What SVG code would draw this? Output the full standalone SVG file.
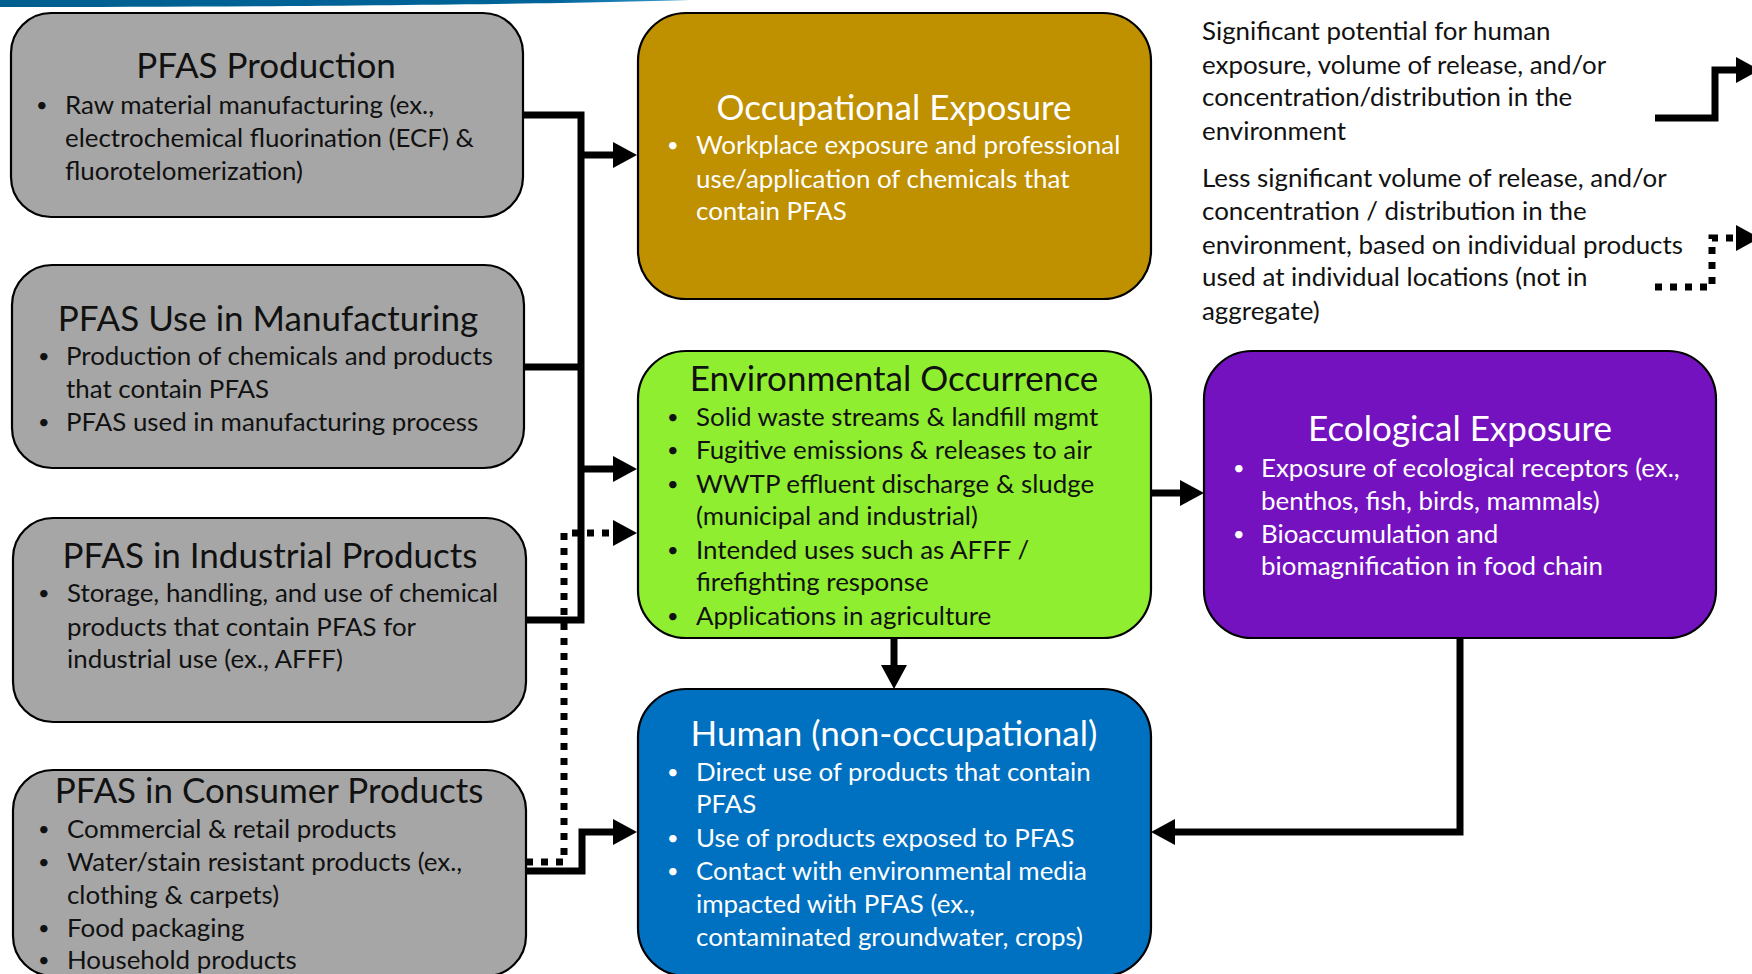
<svg xmlns="http://www.w3.org/2000/svg" width="1752" height="974" viewBox="0 0 1752 974">
<style>
  .box { stroke: #000; stroke-width: 2.2; }
  .gray { fill: #a6a6a6; }
  .txt { font-family: Lato, "Liberation Sans", sans-serif; }
  .title { font-size: 35px; text-anchor: middle; }
  .body { font-size: 25.9px; }
  .b { font-size: 20px; }
  .dark { fill: #111; }
  .white { fill: #fff; }
  .conn { fill: none; stroke: #000; stroke-width: 7; stroke-linejoin: miter; }
  .dot { stroke-dasharray: 7 8; }
</style>
<defs>
  <marker id="ah" viewBox="0 0 24 26" refX="12" refY="13" markerWidth="24" markerHeight="26" markerUnits="userSpaceOnUse" orient="auto">
    <path d="M0,0 L24,13 L0,26 Z" fill="#000"/>
  </marker>
  <linearGradient id="band" x1="0" y1="0" x2="1" y2="0">
    <stop offset="0" stop-color="#005f8f"/>
    <stop offset="0.8" stop-color="#00649a"/>
    <stop offset="1" stop-color="#3a9ccc"/>
  </linearGradient>
</defs>

<path d="M0,0 H690 C560,4 300,7 0,7 Z" fill="url(#band)"/>

<g id="connectors">
  <path class="conn" d="M523,115 H581 V620 H526"/>
  <path class="conn" d="M524,367 H581"/>
  <path class="conn" d="M581,155 H625" marker-end="url(#ah)"/>
  <path class="conn" d="M581,469 H625" marker-end="url(#ah)"/>
  <path class="conn" d="M526,871 H582 V832 H625" marker-end="url(#ah)"/>
  <path class="conn dot" d="M526,862 H564 V533 H625" marker-end="url(#ah)"/>
  <path class="conn" d="M894,638 V677" marker-end="url(#ah)"/>
  <path class="conn" d="M1151,493 H1192" marker-end="url(#ah)"/>
  <path class="conn" d="M1460,638 V832 H1163" marker-end="url(#ah)"/>
  <path class="conn" d="M1655,118 H1715 V70 H1748" marker-end="url(#ah)"/>
  <path class="conn dot" d="M1655,287 H1712 V238 H1748" marker-end="url(#ah)"/>
</g>

<g id="pfas-production">
  <rect class="box gray" x="11" y="13" width="512" height="204" rx="40"/>
  <text class="txt title dark" x="266" y="78">PFAS Production</text>
  <text class="txt body dark"><tspan class="b" x="36" y="112">•</tspan><tspan x="65" y="114">Raw material manufacturing (ex.,</tspan><tspan x="65" y="147">electrochemical fluorination (ECF) &amp;</tspan><tspan x="65" y="180">fluorotelomerization)</tspan></text>
</g>

<g id="pfas-manufacturing">
  <rect class="box gray" x="12" y="265" width="512" height="203" rx="40"/>
  <text class="txt title dark" x="268" y="331">PFAS Use in Manufacturing</text>
  <text class="txt body dark"><tspan class="b" x="38" y="363">•</tspan><tspan x="66" y="365">Production of chemicals and products</tspan><tspan x="66" y="398">that contain PFAS</tspan><tspan class="b" x="38" y="429">•</tspan><tspan x="66" y="431">PFAS used in manufacturing process</tspan></text>
</g>

<g id="pfas-industrial">
  <rect class="box gray" x="13" y="518" width="513" height="204" rx="40"/>
  <text class="txt title dark" x="270" y="568">PFAS in Industrial Products</text>
  <text class="txt body dark"><tspan class="b" x="38" y="600">•</tspan><tspan x="67" y="602">Storage, handling, and use of chemical</tspan><tspan x="67" y="636">products that contain PFAS for</tspan><tspan x="67" y="668">industrial use (ex., AFFF)</tspan></text>
</g>

<g id="pfas-consumer">
  <rect class="box gray" x="13" y="770" width="513" height="206" rx="40"/>
  <text class="txt title dark" x="269" y="803">PFAS in Consumer Products</text>
  <text class="txt body dark"><tspan class="b" x="38" y="836">•</tspan><tspan x="67" y="838">Commercial &amp; retail products</tspan><tspan class="b" x="38" y="869">•</tspan><tspan x="67" y="871">Water/stain resistant products (ex.,</tspan><tspan x="67" y="904">clothing &amp; carpets)</tspan><tspan class="b" x="38" y="935">•</tspan><tspan x="67" y="937">Food packaging</tspan><tspan class="b" x="38" y="967">•</tspan><tspan x="67" y="969">Household products</tspan></text>
</g>

<g id="occupational">
  <rect class="box" fill="#bf9000" x="638" y="13" width="513" height="286" rx="48"/>
  <text class="txt title white" x="894" y="120">Occupational Exposure</text>
  <text class="txt body white"><tspan class="b" x="667" y="152">•</tspan><tspan x="696" y="154">Workplace exposure and professional</tspan><tspan x="696" y="188">use/application of chemicals that</tspan><tspan x="696" y="220">contain PFAS</tspan></text>
</g>

<g id="environmental">
  <rect class="box" fill="#90ee30" x="638" y="351" width="513" height="287" rx="48"/>
  <text class="txt title dark" x="894" y="391">Environmental Occurrence</text>
  <text class="txt body dark"><tspan class="b" x="667" y="424">•</tspan><tspan x="696" y="426">Solid waste streams &amp; landfill mgmt</tspan><tspan class="b" x="667" y="457">•</tspan><tspan x="696" y="459">Fugitive emissions &amp; releases to air</tspan><tspan class="b" x="667" y="491">•</tspan><tspan x="696" y="493">WWTP effluent discharge &amp; sludge</tspan><tspan x="696" y="525">(municipal and industrial)</tspan><tspan class="b" x="667" y="557">•</tspan><tspan x="696" y="559">Intended uses such as AFFF /</tspan><tspan x="696" y="591">firefighting response</tspan><tspan class="b" x="667" y="623">•</tspan><tspan x="696" y="625">Applications in agriculture</tspan></text>
</g>

<g id="ecological">
  <rect class="box" fill="#7512c0" x="1204" y="351" width="512" height="287" rx="48"/>
  <text class="txt title white" x="1460" y="441">Ecological Exposure</text>
  <text class="txt body white"><tspan class="b" x="1233" y="475">•</tspan><tspan x="1261" y="477">Exposure of ecological receptors (ex.,</tspan><tspan x="1261" y="510">benthos, fish, birds, mammals)</tspan><tspan class="b" x="1233" y="541">•</tspan><tspan x="1261" y="543">Bioaccumulation and</tspan><tspan x="1261" y="575">biomagnification in food chain</tspan></text>
</g>

<g id="human">
  <rect class="box" fill="#0070c0" x="638" y="689" width="513" height="287" rx="48"/>
  <text class="txt title white" x="894" y="746">Human (non-occupational)</text>
  <text class="txt body white"><tspan class="b" x="667" y="779">•</tspan><tspan x="696" y="781">Direct use of products that contain</tspan><tspan x="696" y="813">PFAS</tspan><tspan class="b" x="667" y="845">•</tspan><tspan x="696" y="847">Use of products exposed to PFAS</tspan><tspan class="b" x="667" y="878">•</tspan><tspan x="696" y="880">Contact with environmental media</tspan><tspan x="696" y="913">impacted with PFAS (ex.,</tspan><tspan x="696" y="946">contaminated groundwater, crops)</tspan></text>
</g>

<g id="legend">
  <text class="txt body dark"><tspan x="1202" y="40">Significant potential for human</tspan><tspan x="1202" y="74">exposure, volume of release, and/or</tspan><tspan x="1202" y="106">concentration/distribution  in the</tspan><tspan x="1202" y="140">environment</tspan></text>
  <text class="txt body dark"><tspan x="1202" y="187">Less significant volume of release, and/or</tspan><tspan x="1202" y="220">concentration  / distribution in the</tspan><tspan x="1202" y="254">environment, based on individual products</tspan><tspan x="1202" y="286">used at individual locations (not in</tspan><tspan x="1202" y="320">aggregate)</tspan></text>
</g>
</svg>
